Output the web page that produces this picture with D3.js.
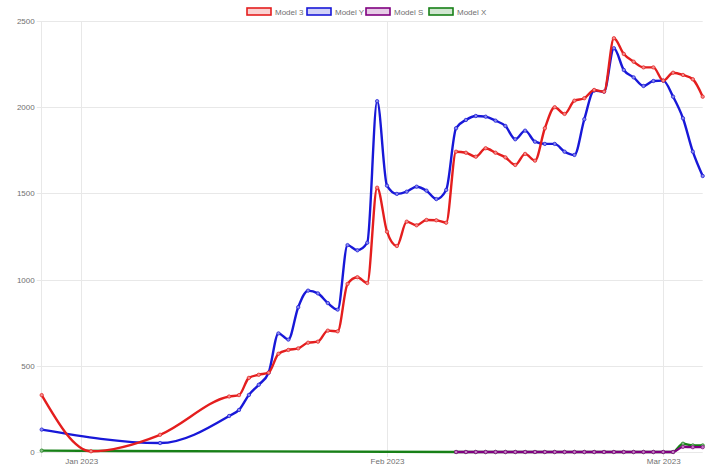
<!DOCTYPE html>
<html>
<head>
<meta charset="utf-8">
<script src="https://cdn.jsdelivr.net/npm/d3@7"></script>
<style>
  body { margin: 0; background: #fff; }
  text { font-family: "Liberation Sans", Arial, sans-serif; }
</style>
</head>
<body>
<svg id="chart" width="720" height="473"></svg>
<script>
// ---- data ----
let seriesNames = ['Model 3', 'Model Y', 'Model S', 'Model X'];
let seriesColors = ['#e41e1e', '#1818d8', '#800080', '#178017'];
let yTicks = [0, 500, 1000, 1500, 2000, 2500];
let xTicks = ['2023-01-01', '2023-02-01', '2023-03-01'];

let model3Dates = ['2022-12-28', '2023-01-02', '2023-01-09', '2023-01-16', '2023-01-17', '2023-01-18',
  '2023-01-19', '2023-01-20', '2023-01-21', '2023-01-22', '2023-01-23', '2023-01-24', '2023-01-25',
  '2023-01-26', '2023-01-27', '2023-01-28', '2023-01-29', '2023-01-30', '2023-01-31', '2023-02-01',
  '2023-02-02', '2023-02-03', '2023-02-04', '2023-02-05', '2023-02-06', '2023-02-07', '2023-02-08',
  '2023-02-09', '2023-02-10', '2023-02-11', '2023-02-12', '2023-02-13', '2023-02-14', '2023-02-15',
  '2023-02-16', '2023-02-17', '2023-02-18', '2023-02-19', '2023-02-20', '2023-02-21', '2023-02-22',
  '2023-02-23', '2023-02-24', '2023-02-25', '2023-02-26', '2023-02-27', '2023-02-28', '2023-03-01',
  '2023-03-02', '2023-03-03', '2023-03-04', '2023-03-05'];
let model3Values = [330, 4, 100, 322, 330, 430, 448, 460, 570, 592, 601, 634, 640, 704, 700, 975, 1014,
  980, 1533, 1278, 1195, 1336, 1315, 1346, 1344, 1330, 1742, 1736, 1713, 1762, 1736, 1709, 1665, 1729,
  1690, 1878, 2000, 1961, 2038, 2052, 2100, 2090, 2400, 2309, 2264, 2231, 2231, 2154, 2200, 2187, 2162,
  2061];

let modelYDates = ['2022-12-28', '2023-01-09', '2023-01-16', '2023-01-17', '2023-01-18', '2023-01-19',
  '2023-01-20', '2023-01-21', '2023-01-22', '2023-01-23', '2023-01-24', '2023-01-25', '2023-01-26',
  '2023-01-27', '2023-01-28', '2023-01-29', '2023-01-30', '2023-01-31', '2023-02-01', '2023-02-02',
  '2023-02-03', '2023-02-04', '2023-02-05', '2023-02-06', '2023-02-07', '2023-02-08', '2023-02-09',
  '2023-02-10', '2023-02-11', '2023-02-12', '2023-02-13', '2023-02-14', '2023-02-15', '2023-02-16',
  '2023-02-17', '2023-02-18', '2023-02-19', '2023-02-20', '2023-02-21', '2023-02-22', '2023-02-23',
  '2023-02-24', '2023-02-25', '2023-02-26', '2023-02-27', '2023-02-28', '2023-03-01', '2023-03-02',
  '2023-03-03', '2023-03-04', '2023-03-05'];
let modelYValues = [130, 52, 209, 244, 331, 390, 460, 688, 652, 840, 936, 920, 864, 826, 1200, 1170,
  1214, 2035, 1545, 1497, 1510, 1539, 1516, 1467, 1520, 1878, 1926, 1949, 1945, 1922, 1891, 1814, 1864,
  1800, 1787, 1787, 1742, 1723, 1930, 2096, 2090, 2342, 2216, 2173, 2123, 2152, 2154, 2061, 1936, 1742,
  1601];

let modelSDates = ['2023-02-08', '2023-02-09', '2023-02-10', '2023-02-11', '2023-02-12', '2023-02-13',
  '2023-02-14', '2023-02-15', '2023-02-16', '2023-02-17', '2023-02-18', '2023-02-19', '2023-02-20',
  '2023-02-21', '2023-02-22', '2023-02-23', '2023-02-24', '2023-02-25', '2023-02-26', '2023-02-27',
  '2023-02-28', '2023-03-01', '2023-03-02', '2023-03-03', '2023-03-04', '2023-03-05'];
let modelSValues = [0, 0, 0, 0, 0, 0, 0, 0, 0, 0, 0, 0, 0, 0, 0, 0, 0, 0, 0, 0, 0, 0, 0, 30, 28, 28];

let modelXDates = ['2022-12-28', '2023-02-08', '2023-02-09', '2023-02-10', '2023-02-11', '2023-02-12',
  '2023-02-13', '2023-02-14', '2023-02-15', '2023-02-16', '2023-02-17', '2023-02-18', '2023-02-19',
  '2023-02-20', '2023-02-21', '2023-02-22', '2023-02-23', '2023-02-24', '2023-02-25', '2023-02-26',
  '2023-02-27', '2023-02-28', '2023-03-01', '2023-03-02', '2023-03-03', '2023-03-04', '2023-03-05'];
let modelXValues = [8, 0, 0, 0, 0, 0, 0, 0, 0, 0, 0, 0, 0, 0, 0, 0, 0, 0, 0, 0, 0, 0, 0, 0, 48, 38, 38];

// ---- setup ----
let parse = d3.timeParse('%Y-%m-%d');
let zip = (ds, vs) => ds.map((d, i) => ({date: parse(d), value: vs[i]}));
let series = [
  zip(model3Dates, model3Values),
  zip(modelYDates, modelYValues),
  zip(modelSDates, modelSValues),
  zip(modelXDates, modelXValues)
];

let svg = d3.select('#chart');
let plotLeft = 41.7, plotRight = 702.7, plotTop = 21, plotBottom = 452;

let sx = d3.scaleTime()
  .domain([parse('2022-12-28'), parse('2023-03-05')])
  .range([plotLeft, plotRight]);
let sy = d3.scaleLinear()
  .domain([0, 2500])
  .range([plotBottom, plotTop]);

let grid = '#e8e8e8';

// horizontal grid
svg.selectAll('.hgrid')
  .data(yTicks)
  .enter()
  .append('line')
  .attr('class', 'hgrid')
  .attr('x1', plotLeft - 5)
  .attr('x2', plotRight)
  .attr('y1', d => Math.round(sy(d)) + 0.5)
  .attr('y2', d => Math.round(sy(d)) + 0.5)
  .attr('stroke', grid);

// vertical grid at month starts, plus the left axis line
svg.selectAll('.vgrid')
  .data(xTicks.map(parse))
  .enter()
  .append('line')
  .attr('class', 'vgrid')
  .attr('x1', d => Math.round(sx(d)) + 0.5)
  .attr('x2', d => Math.round(sx(d)) + 0.5)
  .attr('y1', plotTop)
  .attr('y2', plotBottom + 5)
  .attr('stroke', grid);

svg.append('line')
  .attr('x1', Math.round(plotLeft) - 0.5)
  .attr('x2', Math.round(plotLeft) - 0.5)
  .attr('y1', plotTop)
  .attr('y2', plotBottom + 5)
  .attr('stroke', grid);

// axes (labels only, grid drawn above)
let yAxis = svg.append('g')
  .attr('transform', `translate(${plotLeft - 6},0)`)
  .call(d3.axisLeft(sy).tickValues(yTicks).tickSize(0).tickPadding(1).tickFormat(d3.format('d')));
let xAxis = svg.append('g')
  .attr('transform', `translate(0,${plotBottom + 5})`)
  .call(d3.axisBottom(sx).tickValues(xTicks.map(parse)).tickSize(0).tickPadding(1)
    .tickFormat(d3.timeFormat('%b %Y')));

[yAxis, xAxis].forEach(a => {
  a.select('.domain').remove();
  a.selectAll('text')
    .attr('fill', '#707070')
    .style('font-size', '8px')
    .style('font-family', '"Liberation Sans", Arial, sans-serif');
});

// lines, drawn so that the first dataset ends up on top
let line = d3.line()
  .x(d => sx(d.date))
  .y(d => sy(d.value))
  .curve(d3.curveMonotoneX);

let order = [3, 2, 1, 0];
order.forEach(i => {
  let g = svg.append('g').attr('class', 'series');
  let c = seriesColors[i];
  let light = d3.interpolateRgb(seriesColors[i], '#fff')(0.5);

  g.append('path')
    .datum(series[i])
    .attr('fill', 'none')
    .attr('stroke', c)
    .attr('stroke-width', 2.4)
    .attr('stroke-linejoin', 'round')
    .attr('d', line);

  g.selectAll('circle')
    .data(series[i])
    .enter()
    .append('circle')
    .attr('cx', d => sx(d.date))
    .attr('cy', d => sy(d.value))
    .attr('r', 1.7)
    .attr('fill', light)
    .attr('stroke', c)
    .attr('stroke-opacity', 0.8)
    .attr('stroke-width', 0.9);
});

// legend
let legendX = [247, 307, 366, 429];
let legend = svg.selectAll('.legend')
  .data(seriesNames)
  .enter()
  .append('g')
  .attr('class', 'legend')
  .attr('transform', (_, i) => `translate(${legendX[i]},8)`);

legend.append('rect')
  .attr('width', 24)
  .attr('height', 7)
  .attr('fill', (_, i) => d3.interpolateRgb(seriesColors[i], '#fff')(0.8))
  .attr('stroke', (_, i) => seriesColors[i])
  .attr('stroke-width', 1.6);

legend.append('text')
  .attr('x', 28)
  .attr('y', 6.5)
  .attr('fill', '#707070')
  .style('font-size', '8px')
  .text(d => d);
</script>
</body>
</html>
